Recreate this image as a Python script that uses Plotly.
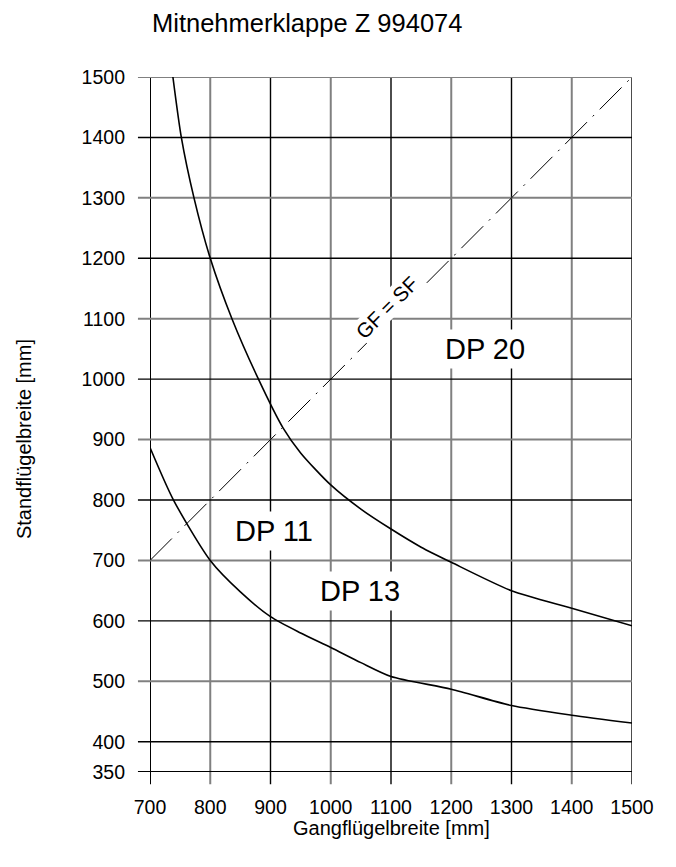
import plotly.graph_objects as go

# Data
x_ticks = [700, 800, 900, 1000, 1100, 1200, 1300, 1400, 1500]
y_ticks = [350, 400, 500, 600, 700, 800, 900, 1000, 1100, 1200, 1300, 1400, 1500]

upper_x = [738, 752, 773, 800, 836, 880, 921, 950, 1000, 1050, 1100, 1150, 1200, 1300, 1400, 1500]
upper_y = [1500, 1400, 1300, 1200, 1100, 1000, 919, 878, 825, 785, 752, 722, 697, 650, 621, 592]

lower_x = [700, 739, 800, 850, 900, 950, 1000, 1050, 1100, 1200, 1300, 1400, 1500]
lower_y = [887, 800, 700, 648, 607, 580, 556, 531, 508, 487, 460, 444, 431]

diag_x = [700, 1500]
diag_y = [700, 1500]

region_labels = ["DP 20", "DP 11", "DP 13"]
region_x = [1256, 906, 1048]
region_y = [1050, 748, 650]

BLACK = "#000000"
GRAY = "#808080"
FONT = "Arial, Liberation Sans, sans-serif"

fig = go.Figure()

shapes = []
# vertical grid lines (odd hundreds black, even gray), extending below as ticks
for xv in x_ticks:
    col = BLACK if (xv // 100) % 2 == 1 else GRAY
    w = 2 if xv == 700 else (1.4 if col == BLACK else 2)
    shapes.append(dict(type="line", xref="x", yref="paper", x0=xv, x1=xv,
                       y0=-0.0175, y1=1, line=dict(color=col, width=w), layer="below"))
# horizontal grid lines
for yv in y_ticks:
    if yv == 350:
        col, w = BLACK, 2
    else:
        col = BLACK if (yv // 100) % 2 == 0 else GRAY
        w = 1.4 if col == BLACK else 2
    shapes.append(dict(type="line", xref="paper", yref="y", x0=-0.025, x1=1,
                       y0=yv, y1=yv, line=dict(color=col, width=w), layer="below"))

fig.add_trace(go.Scatter(x=diag_x, y=diag_y, mode="lines",
                         line=dict(color=BLACK, width=1, dash="31px,8px,2px,8px"),
                         hoverinfo="skip", showlegend=False))
fig.add_trace(go.Scatter(x=upper_x, y=upper_y, mode="lines",
                         line=dict(color=BLACK, width=1.6, shape="spline", smoothing=0.7),
                         showlegend=False))
fig.add_trace(go.Scatter(x=lower_x, y=lower_y, mode="lines",
                         line=dict(color=BLACK, width=1.6, shape="spline", smoothing=0.7),
                         showlegend=False))

annotations = []
for t, xv, yv in zip(region_labels, region_x, region_y):
    annotations.append(dict(text=t, x=xv, y=yv, xref="x", yref="y", showarrow=False,
                            font=dict(family=FONT, size=29, color=BLACK),
                            bgcolor="white", borderpad=3))
annotations.append(dict(text="GF = SF", x=1093, y=1118, xref="x", yref="y", showarrow=False,
                        textangle=-45, font=dict(family=FONT, size=20.5, color=BLACK),
                        bgcolor="white", borderpad=0))
annotations.append(dict(text="Mitnehmerklappe Z 994074", x=0, y=1.0775, xref="paper", yref="paper",
                        xanchor="left", yanchor="middle", showarrow=False,
                        font=dict(family=FONT, size=25.5, color=BLACK)))
annotations.append(dict(text="Gangflügelbreite [mm]", x=0.5, y=-0.08, xref="paper", yref="paper",
                        xanchor="center", yanchor="middle", showarrow=False,
                        font=dict(family=FONT, size=20, color=BLACK)))
annotations.append(dict(text="Standflügelbreite [mm]", x=-0.2614, y=0.479, xref="paper", yref="paper",
                        xanchor="center", yanchor="middle", showarrow=False, textangle=-90,
                        font=dict(family=FONT, size=20, color=BLACK)))

# page body has an 8px margin: shrink the figure so the plot lands where the reference has it
fig.update_layout(
    width=668, height=859,
    margin=dict(l=142, r=44, t=69, b=95),
    paper_bgcolor="white", plot_bgcolor="white",
    shapes=shapes, annotations=annotations,
    font=dict(family=FONT, color=BLACK),
    xaxis=dict(range=[700, 1500], tickvals=x_ticks, ticktext=[str(v) for v in x_ticks],
               showgrid=False, zeroline=False, showline=False, ticks="",
               ticklabelstandoff=21, tickfont=dict(family=FONT, size=19.5, color=BLACK),
               fixedrange=True),
    yaxis=dict(range=[350, 1500], tickvals=y_ticks, ticktext=[str(v) for v in y_ticks],
               showgrid=False, zeroline=False, showline=False, ticks="",
               ticklabelstandoff=24, tickfont=dict(family=FONT, size=19.5, color=BLACK),
               fixedrange=True),
)

fig.write_html("out.html")
